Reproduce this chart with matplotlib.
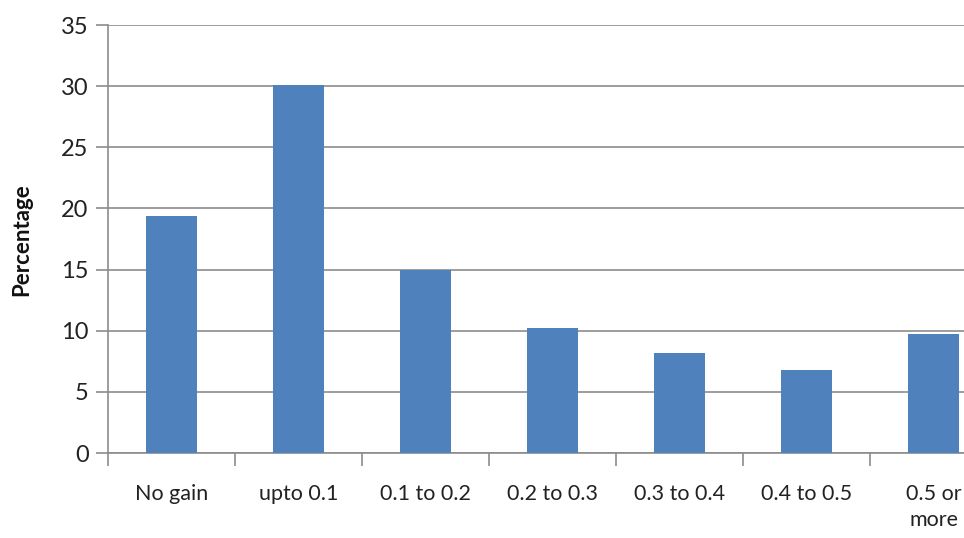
import matplotlib
matplotlib.use("Agg")
import matplotlib.pyplot as plt
import numpy as np

categories = ["No gain", "upto 0.1", "0.1 to 0.2", "0.2 to 0.3",
              "0.3 to 0.4", "0.4 to 0.5", "0.5 or\nmore"]
percentages = [19.4, 30.1, 15.0, 10.2, 8.2, 6.8, 9.7]
y_ticks = [0, 5, 10, 15, 20, 25, 30, 35]

plt.rcParams['font.family'] = ['Lato', 'DejaVu Sans']

W, H = 964, 538
fig = plt.figure(figsize=(W / 100, H / 100), dpi=100)
# axes box in pixel coordinates (left, top, right, bottom); right side runs off the canvas
left, top, right, bottom = 108, 25, 997, 453
ax = fig.add_axes([left / W, 1 - bottom / H, (right - left) / W, (bottom - top) / H])

x = np.arange(len(categories))
ax.bar(x, percentages, width=0.4, color="#4F81BD", zorder=3)

ax.set_xlim(-0.5, len(categories) - 0.5)
ax.set_ylim(0, 35)
ax.set_yticks(y_ticks)
ax.set_yticklabels([str(t) for t in y_ticks], fontsize=17, color="#222222")
ax.yaxis.grid(True, color="#8c8c8c", linewidth=1.2, zorder=0)

ax.set_xticks(x)
ax.set_xticklabels(categories, fontsize=15.5, color="#222222", linespacing=1.4)
ax.set_xticks(np.arange(-0.5, len(categories)), minor=True)
ax.tick_params(axis="x", which="major", length=0, pad=22)
ax.tick_params(axis="x", which="minor", length=9, width=1.2, color="#8c8c8c")
ax.tick_params(axis="y", length=9, width=1.2, color="#8c8c8c", pad=5)

for s in ["top", "right"]:
    ax.spines[s].set_visible(False)
ax.spines["left"].set_color("#8c8c8c")
ax.spines["left"].set_linewidth(1.2)
ax.spines["bottom"].set_color("#8c8c8c")
ax.spines["bottom"].set_linewidth(1.2)

fig.text(22 / W, 1 - 240 / H, "Percentage", rotation=90, fontsize=16,
         fontweight="bold", ha="center", va="center", color="#111111")

fig.savefig("out.png", dpi=100)
